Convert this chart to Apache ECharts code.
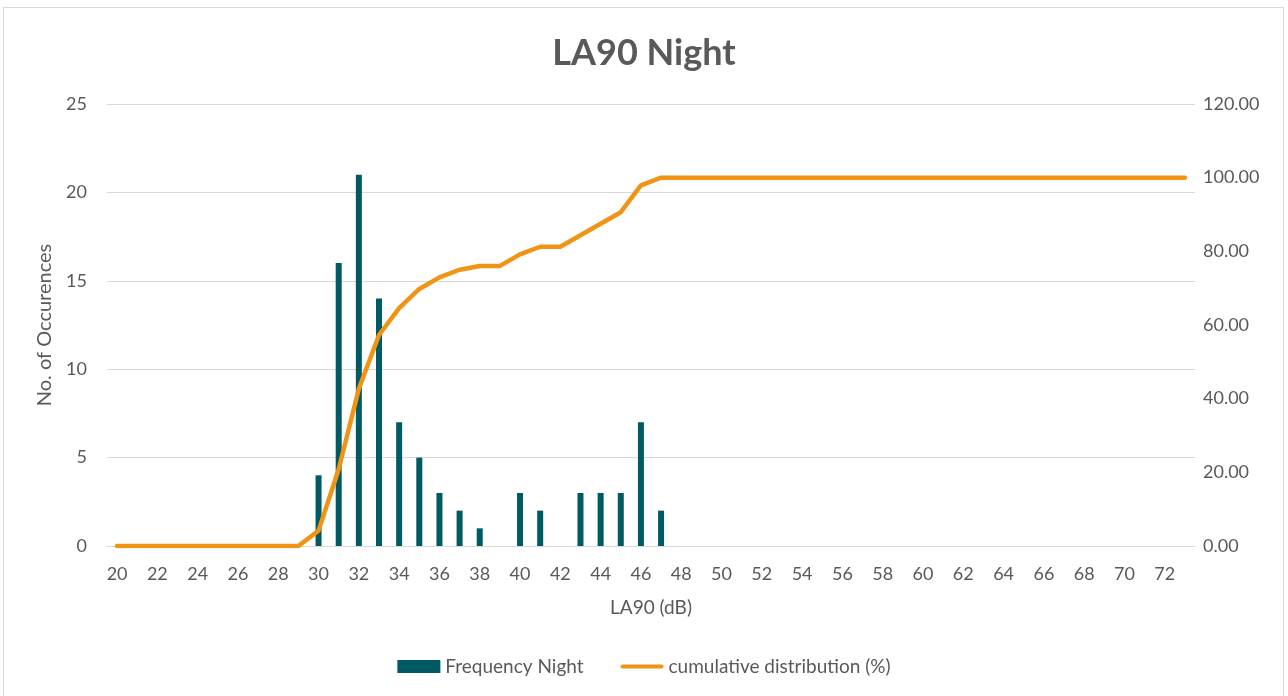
<!DOCTYPE html>
<html>
<head>
<meta charset="utf-8">
<script src="https://cdn.jsdelivr.net/npm/echarts@6/dist/echarts.min.js"></script>
<style>
  html, body { margin: 0; padding: 0; background: #fff; }
  #frame { position: absolute; left: 3px; top: 7px; width: 1281px; height: 700px; border: 1px solid #d9d9d9; box-sizing: border-box; }
  #chart { position: absolute; left: 0; top: 0; width: 1288px; height: 696px; }
</style>
</head>
<body>
<div id="frame"></div>
<div id="chart"></div>
<script>
// LA90 levels in dB (one category per integer dB)
const levels = [];
for (let d = 20; d <= 73; d++) levels.push(String(d));

// Night-time occurrence counts per dB bin (20 … 73)
const frequencyNight = [
  0, 0, 0, 0, 0, 0, 0, 0, 0, 0,      // 20–29
  4, 16, 21, 14, 7, 5, 3, 2, 1, 0,   // 30–39
  3, 2, 0, 3, 3, 3, 7, 2, 0, 0,      // 40–49
  0, 0, 0, 0, 0, 0, 0, 0, 0, 0,      // 50–59
  0, 0, 0, 0, 0, 0, 0, 0, 0, 0,      // 60–69
  0, 0, 0, 0                         // 70–73
];

// Cumulative distribution (%) per dB bin (20 … 73)
const cumulativePct = [
  0, 0, 0, 0, 0, 0, 0, 0, 0, 0,
  4.17, 20.83, 42.71, 57.29, 64.58, 69.79, 72.92, 75.00, 76.04, 76.04,
  79.17, 81.25, 81.25, 84.38, 87.50, 90.63, 97.92, 100, 100, 100,
  100, 100, 100, 100, 100, 100, 100, 100, 100, 100,
  100, 100, 100, 100, 100, 100, 100, 100, 100, 100,
  100, 100, 100, 100
];

const FONT = 'Lato, "Open Sans", sans-serif';
const TXT = '#595959';

const chart = echarts.init(document.getElementById('chart'), null, { renderer: 'canvas' });
chart.setOption({
  animation: false,
  backgroundColor: 'transparent',
  textStyle: { fontFamily: FONT },
  title: {
    text: 'LA90 Night',
    left: 'center',
    top: 30,
    textStyle: { fontFamily: FONT, fontSize: 36, fontWeight: 'bold', color: TXT }
  },
  legend: {
    bottom: 15,
    left: 'center',
    itemGap: 37,
    itemWidth: 43,
    itemHeight: 13,
    textStyle: { fontFamily: FONT, fontSize: 19, color: TXT },
    data: [
      { name: 'Frequency Night', icon: 'rect' },
      { name: 'cumulative distribution (%)', icon: 'path://M2,0 L41,0 A2,2 0 0 1 41,4 L2,4 A2,2 0 0 1 2,0 Z' }
    ]
  },
  grid: { left: 107, right: 93, top: 104, bottom: 150, containLabel: false },
  xAxis: {
    type: 'category',
    data: levels,
    boundaryGap: true,
    name: 'LA90 (dB)',
    nameLocation: 'middle',
    nameGap: 52,
    nameTextStyle: { fontFamily: FONT, fontSize: 19, color: TXT },
    axisLine: { lineStyle: { color: '#d9d9d9', width: 1 } },
    axisTick: { show: false },
    axisLabel: { interval: 1, color: TXT, fontSize: 18, fontFamily: FONT, margin: 19 }
  },
  yAxis: [
    {
      type: 'value',
      min: 0, max: 25, interval: 5,
      name: 'No. of Occurences',
      nameLocation: 'middle',
      nameGap: 52,
      nameTextStyle: { fontFamily: FONT, fontSize: 20, color: TXT },
      axisLine: { show: false },
      axisTick: { show: false },
      axisLabel: { color: TXT, fontSize: 18, fontFamily: FONT, margin: 20 },
      splitLine: { lineStyle: { color: '#d9d9d9', width: 1 } }
    },
    {
      type: 'value',
      min: 0, max: 120, interval: 20,
      position: 'right',
      axisLine: { show: false },
      axisTick: { show: false },
      axisLabel: {
        color: TXT, fontSize: 18, fontFamily: FONT, margin: 8,
        formatter: v => v.toFixed(2)
      },
      splitLine: { show: false }
    }
  ],
  series: [
    {
      name: 'Frequency Night',
      type: 'bar',
      yAxisIndex: 0,
      data: frequencyNight,
      barWidth: 6,
      itemStyle: { color: '#005A63' }
    },
    {
      name: 'cumulative distribution (%)',
      type: 'line',
      yAxisIndex: 1,
      data: cumulativePct,
      symbol: 'none',
      smooth: false,
      lineStyle: { color: '#F09415', width: 4.5, cap: 'round', join: 'round' },
      itemStyle: { color: '#F09415' }
    }
  ]
});
</script>
</body>
</html>
